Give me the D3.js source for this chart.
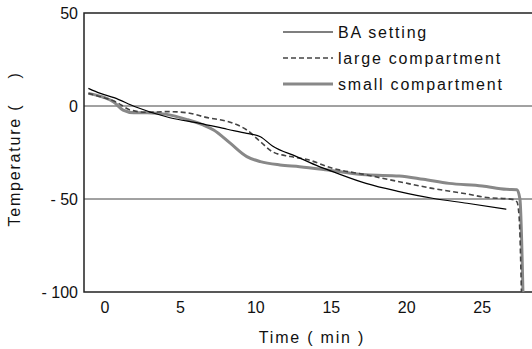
<!DOCTYPE html>
<html>
<head>
<meta charset="utf-8">
<script src="https://cdn.jsdelivr.net/npm/d3@7"></script>
<style>
  body { margin: 0; background: #fff; }
  text { font-family: "Liberation Sans", Arial, sans-serif; font-size: 16px; fill: #111; letter-spacing: 1.8px; }
</style>
</head>
<body>
<div id="chart"></div>
<script>

const width = 532 ;
const height = 349 ;

// time (min) / temperature (C)
const baTime = [-1.1, -0.3, 0.6, 2.0, 4.3, 6.3, 8.1, 9.4, 10.3, 11.1, 12.7, 14.2, 15.1, 17.3, 19.5, 21.7, 24.0, 26.6]
const baTemp = [9.5, 6.8, 4.5, -0.4, -6.3, -9.3, -12.5, -14.7, -16.5, -21.5, -27.2, -32.6, -35.3, -41.6, -46.0, -49.6, -52.3, -55.5]

const largeTime = [-1.1, -0.3, 0.7, 1.7, 2.8, 4.1, 5.4, 6.7, 8.5, 9.4, 10.3, 11.1, 12.3, 13.4, 15.1, 17.3, 19.5, 21.7, 24.0, 25.1, 27.0, 27.3, 27.45, 27.6]
const largeTemp = [6.8, 5.0, 2.3, -2.2, -3.4, -3.0, -3.6, -6.1, -9.3, -12.9, -19.2, -24.6, -27.2, -28.8, -33.5, -37.0, -40.7, -44.3, -47.3, -49.0, -50.2, -51.5, -60, -100]

const smallTime = [-1.1, -0.1, 0.55, 1.2, 1.9, 2.8, 4.1, 5.4, 6.5, 7.2, 8.3, 9.4, 10.3, 11.6, 12.9, 15.1, 17.3, 19.5, 21.1, 22.8, 25.0, 26.6, 27.3, 27.5, 27.7]
const smallTemp = [6.8, 4.7, 2.3, -2.2, -3.6, -3.6, -4.5, -7.2, -10.2, -12.9, -20.0, -27.2, -29.9, -31.7, -32.6, -34.8, -37.0, -37.6, -39.4, -41.6, -43.0, -44.8, -45.0, -50, -100]

const xTicks = [0, 5, 10, 15, 20, 25]
const yTicks = [50, 0, -50, -100]
const yTickLabels = ["50", "0", "- 50", "- 100"]
const seriesNames = ["BA setting", "large compartment", "small compartment"]

const plotLeft = 84, plotRight = 532, plotTop = 13, plotBottom = 292

const svg = d3.select("#chart").append("svg")
	.attr("width", width)
	.attr("height", height)

const x = d3.scaleLinear().domain([-1.39, 28.3]).range([plotLeft, plotRight])
const y = d3.scaleLinear().domain([-100, 50]).range([plotBottom, plotTop])

// grid lines at 0 and -50
svg.selectAll("line.grid")
	.data([0, -50])
	.enter().append("line")
		.attr("x1", plotLeft).attr("x2", plotRight)
		.attr("y1", d => y(d)).attr("y2", d => y(d))
		.attr("stroke", "#444").attr("stroke-width", 1)

// frame : top, left, bottom
svg.append("path")
	.attr("d", `M${plotRight},${plotTop}H${plotLeft}V${plotBottom}H${plotRight}`)
	.attr("fill", "none")
	.attr("stroke", "#222")
	.attr("stroke-width", 1.5)

// tick labels
svg.selectAll("text.xt")
	.data(xTicks)
	.enter().append("text")
		.attr("x", d => x(d))
		.attr("y", 313)
		.attr("text-anchor", "middle")
		.style("letter-spacing", "0px")
		.text(d => d)

svg.selectAll("text.yt")
	.data(yTicks)
	.enter().append("text")
		.attr("x", 78)
		.attr("y", d => y(d))
		.attr("dy", "0.36em")
		.attr("text-anchor", "end")
		.style("letter-spacing", "0px")
		.text((d, i) => yTickLabels[i])

svg.append("text")
	.attr("x", 312).attr("y", 343)
	.attr("text-anchor", "middle")
	.text("Time ( min )")

svg.append("text")
	.attr("transform", "translate(20,149) rotate(-90)")
	.attr("text-anchor", "middle")
	.text("Temperature (\u00a0\u00a0\u00a0\u00a0)")

const line = d3.line()
	.x(d => x(d[0]))
	.y(d => y(d[1]))
	.curve(d3.curveMonotoneX)

const styles = [
	{ color: "#000", w: 1.2, dash: null },
	{ color: "#444", w: 1.6, dash: "5,3" },
	{ color: "#888", w: 3, dash: null }
]
const series = [
	d3.zip(baTime, baTemp),
	d3.zip(largeTime, largeTemp),
	d3.zip(smallTime, smallTemp)
]

// draw gray first so the others sit on it
;[2, 1, 0].forEach(function(i) {
	svg.append("path")
		.datum(series[i])
		.attr("d", line)
		.attr("fill", "none")
		.attr("stroke", styles[i].color)
		.attr("stroke-width", styles[i].w)
		.attr("stroke-dasharray", styles[i].dash)
})

// legend
const legendY = [32, 58, 84]
seriesNames.forEach(function(name, i) {
	svg.append("line")
		.attr("x1", 283).attr("x2", 333)
		.attr("y1", legendY[i]).attr("y2", legendY[i])
		.attr("stroke", styles[i].color)
		.attr("stroke-width", styles[i].w)
		.attr("stroke-dasharray", styles[i].dash)
	svg.append("text")
		.attr("x", 338).attr("y", legendY[i])
		.attr("dy", "0.36em")
		.text(name)
})

</script>
</body>
</html>
